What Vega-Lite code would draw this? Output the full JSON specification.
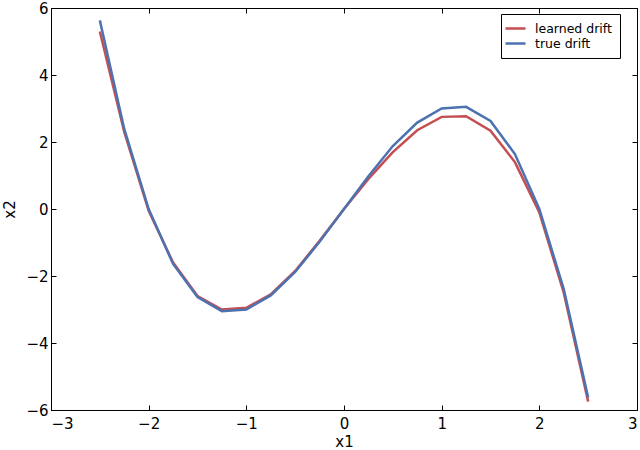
{
  "$schema": "https://vega.github.io/schema/vega-lite/v6.json",
  "width": 586,
  "height": 402,
  "autosize": {"type": "none"},
  "padding": {"left": 51, "top": 8, "right": 3, "bottom": 40},
  "background": "white",
  "config": {
    "view": {"stroke": "black", "strokeWidth": 1},
    "font": "DejaVu Sans",
    "axis": {
      "grid": false,
      "domainColor": "black",
      "tickColor": "black",
      "tickSize": -5,
      "labelFont": "DejaVu Sans",
      "labelFontSize": 15,
      "labelColor": "black",
      "titleFont": "DejaVu Sans",
      "titleFontSize": 15,
      "titleFontWeight": "normal",
      "titleColor": "black"
    }
  },
  "data": {
    "values": [
      {"x1": -2.5, "x2": 5.3, "series": "learned drift"},
      {"x1": -2.25, "x2": 2.3, "series": "learned drift"},
      {"x1": -2.0, "x2": -0.05, "series": "learned drift"},
      {"x1": -1.75, "x2": -1.6, "series": "learned drift"},
      {"x1": -1.5, "x2": -2.6, "series": "learned drift"},
      {"x1": -1.25, "x2": -3.0, "series": "learned drift"},
      {"x1": -1.0, "x2": -2.95, "series": "learned drift"},
      {"x1": -0.75, "x2": -2.55, "series": "learned drift"},
      {"x1": -0.5, "x2": -1.85, "series": "learned drift"},
      {"x1": -0.25, "x2": -0.95, "series": "learned drift"},
      {"x1": 0.0, "x2": 0.0, "series": "learned drift"},
      {"x1": 0.25, "x2": 0.9, "series": "learned drift"},
      {"x1": 0.5, "x2": 1.7, "series": "learned drift"},
      {"x1": 0.75, "x2": 2.35, "series": "learned drift"},
      {"x1": 1.0, "x2": 2.75, "series": "learned drift"},
      {"x1": 1.25, "x2": 2.77, "series": "learned drift"},
      {"x1": 1.5, "x2": 2.34, "series": "learned drift"},
      {"x1": 1.75, "x2": 1.4, "series": "learned drift"},
      {"x1": 2.0, "x2": -0.1, "series": "learned drift"},
      {"x1": 2.25, "x2": -2.5, "series": "learned drift"},
      {"x1": 2.5, "x2": -5.75, "series": "learned drift"},
      {"x1": -2.5, "x2": 5.63, "series": "true drift"},
      {"x1": -2.25, "x2": 2.39, "series": "true drift"},
      {"x1": -2.0, "x2": 0.0, "series": "true drift"},
      {"x1": -1.75, "x2": -1.64, "series": "true drift"},
      {"x1": -1.5, "x2": -2.63, "series": "true drift"},
      {"x1": -1.25, "x2": -3.05, "series": "true drift"},
      {"x1": -1.0, "x2": -3.0, "series": "true drift"},
      {"x1": -0.75, "x2": -2.58, "series": "true drift"},
      {"x1": -0.5, "x2": -1.88, "series": "true drift"},
      {"x1": -0.25, "x2": -0.98, "series": "true drift"},
      {"x1": 0.0, "x2": 0.0, "series": "true drift"},
      {"x1": 0.25, "x2": 0.98, "series": "true drift"},
      {"x1": 0.5, "x2": 1.88, "series": "true drift"},
      {"x1": 0.75, "x2": 2.58, "series": "true drift"},
      {"x1": 1.0, "x2": 3.0, "series": "true drift"},
      {"x1": 1.25, "x2": 3.05, "series": "true drift"},
      {"x1": 1.5, "x2": 2.63, "series": "true drift"},
      {"x1": 1.75, "x2": 1.64, "series": "true drift"},
      {"x1": 2.0, "x2": 0.0, "series": "true drift"},
      {"x1": 2.25, "x2": -2.39, "series": "true drift"},
      {"x1": 2.5, "x2": -5.63, "series": "true drift"}
    ]
  },
  "layer": [
    {
      "mark": {"type": "line", "strokeWidth": 2.5},
      "encoding": {
        "x": {"field": "x1", "type": "quantitative", "scale": {"domain": [-3, 3], "nice": false},
              "axis": {"title": "x1", "values": [-3, -2, -1, 0, 1, 2, 3], "labelPadding": 11, "titlePadding": 3}},
        "y": {"field": "x2", "type": "quantitative", "scale": {"domain": [-6, 6], "nice": false},
              "axis": {"title": "x2", "values": [-6, -4, -2, 0, 2, 4, 6], "labelPadding": 8, "titlePadding": 8}},
        "color": {"field": "series", "type": "nominal",
                  "scale": {"domain": ["learned drift", "true drift"], "range": ["#c44e52", "#4c72b0"]},
                  "legend": {"title": null, "orient": "none", "legendX": 450, "legendY": 6,
                             "symbolType": "M-2,0H2", "symbolSize": 100,
                             "symbolStrokeWidth": 2.5, "labelFontSize": 12.5, "labelFont": "DejaVu Sans",
                             "labelOffset": 13, "labelColor": "black", "strokeColor": "black", "fillColor": "white",
                             "padding": 8, "rowPadding": 2}},
        "order": {"field": "x1", "type": "quantitative"}
      }
    },
    {
      "mark": {"type": "line", "opacity": 0},
      "encoding": {
        "x": {"field": "x1", "type": "quantitative",
              "axis": {"orient": "top", "labels": false, "title": null, "values": [-3, -2, -1, 0, 1, 2, 3]}},
        "y": {"field": "x2", "type": "quantitative",
              "axis": {"orient": "right", "labels": false, "title": null, "values": [-6, -4, -2, 0, 2, 4, 6]}}
      }
    }
  ],
  "resolve": {"axis": {"x": "independent", "y": "independent"}}
}
